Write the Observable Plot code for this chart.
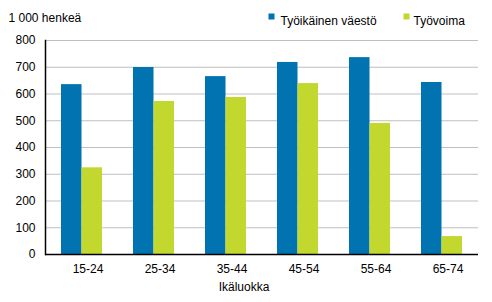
<!DOCTYPE html>
<html>
<head>
<meta charset="utf-8">
<script src="https://cdn.jsdelivr.net/npm/d3@7"></script>
<script src="https://cdn.jsdelivr.net/npm/@observablehq/plot@0.6"></script>
<style>
  html, body { margin: 0; padding: 0; background: #fff; }
  #chart svg { display: block; }
  #chart svg text { font-family: "Liberation Sans", Arial, sans-serif; font-size: 12px; }
</style>
</head>
<body>
<div id="chart"></div>
<script>
const ageGroups = ["15-24", "25-34", "35-44", "45-54", "55-64", "65-74"];
const seriesNames = ["Työikäinen väestö", "Työvoima"];
const workingAge = [635, 699, 665, 718, 736, 643];
const labourForce = [324, 572, 587, 639, 490, 67];
const yTicks = [0, 100, 200, 300, 400, 500, 600, 700, 800];
const yUnit = "1 000 henkeä";
const xTitle = "Ikäluokka";

const colors = ["#0073b0", "#c2d82f"];

const data = [];
ageGroups.forEach((g, i) => {
  data.push({group: g, series: seriesNames[0], value: workingAge[i]});
  data.push({group: g, series: seriesNames[1], value: labourForce[i]});
});

const half = 20.5;

const chart = Plot.plot({
  width: 492,
  height: 302,
  marginLeft: 45,
  marginRight: 14,
  marginTop: 40,
  marginBottom: 48,
  style: {color: "#000", background: "#fff"},
  x: {domain: ageGroups, paddingInner: 0.43, paddingOuter: 0.215},
  y: {domain: [0, 800]},
  color: {domain: seriesNames, range: colors},
  marks: [
    Plot.gridY(yTicks, {stroke: "#bfbfbf", strokeOpacity: 1, strokeWidth: 1}),
    Plot.barY(data.filter(d => d.series === seriesNames[0]), {x: "group", y: "value", fill: "series", insetRight: half}),
    Plot.barY(data.filter(d => d.series === seriesNames[1]), {x: "group", y: "value", fill: "series", insetLeft: half}),
    Plot.ruleY([0], {stroke: "#000", strokeWidth: 1.5}),
    Plot.frame({anchor: "left", stroke: "#000", strokeWidth: 1.5}),
    Plot.axisY(yTicks, {tickSize: 0, tickPadding: 10, label: null}),
    Plot.axisX({tickSize: 0, tickPadding: 10, label: null, dx: 6}),
    Plot.text([xTitle], {frameAnchor: "bottom", dx: -18, dy: 36}),
    Plot.text([yUnit], {frameAnchor: "top-left", textAnchor: "start", dx: -37, dy: -27}),
    Plot.dot([seriesNames[0]], {frameAnchor: "top-left", dx: 226, dy: -24, symbol: "square", r: 3.4, fill: d => d, stroke: null}),
    Plot.text([seriesNames[0]], {frameAnchor: "top-left", textAnchor: "start", dx: 235, dy: -24}),
    Plot.dot([seriesNames[1]], {frameAnchor: "top-left", dx: 361, dy: -24, symbol: "square", r: 3.4, fill: d => d, stroke: null}),
    Plot.text([seriesNames[1]], {frameAnchor: "top-left", textAnchor: "start", dx: 368, dy: -24})
  ]
});
document.getElementById("chart").appendChild(chart);
</script>
</body>
</html>
